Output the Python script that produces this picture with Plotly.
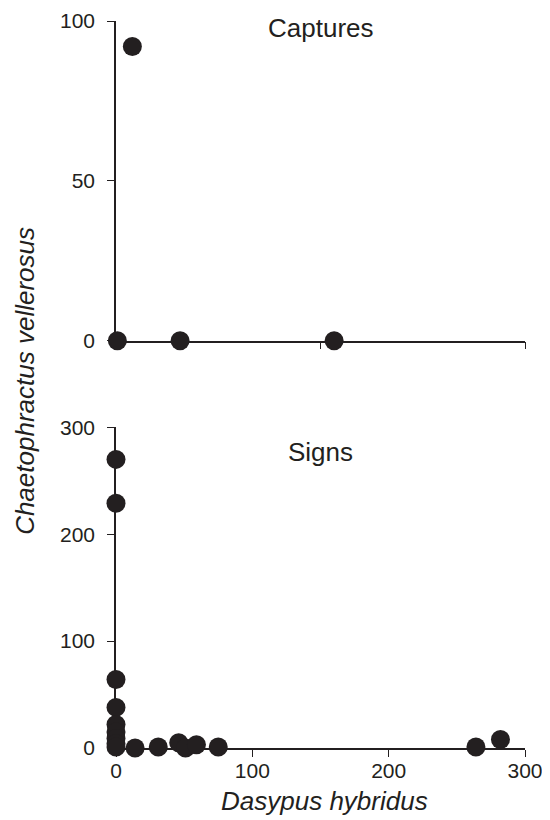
import plotly.graph_objects as go

# Captures panel
cap_x = [1, 12, 47, 160]
cap_y = [0, 92, 0, 0]

# Signs panel
sign_x = [0, 0, 0, 0, 0, 0, 0, 0, 0, 14, 31, 46, 51, 59, 75, 264, 282]
sign_y = [270, 229, 64, 38, 22, 15, 9, 4, 1, 0, 1, 5, 0, 3, 1, 1, 8]

top_yticks = [0, 50, 100]
bot_yticks = [0, 100, 200, 300]
bot_xticks = [0, 100, 200, 300]
top_xticks = [150, 300]

INK = "#231f20"
FONT = "Liberation Sans, Arial, sans-serif"

fig = go.Figure()
marker = dict(size=19, color=INK, line=dict(width=0))
fig.add_trace(go.Scatter(x=cap_x, y=cap_y, mode="markers", marker=marker,
                         xaxis="x", yaxis="y", cliponaxis=False, showlegend=False))
fig.add_trace(go.Scatter(x=sign_x, y=sign_y, mode="markers", marker=marker,
                         xaxis="x2", yaxis="y2", cliponaxis=False, showlegend=False))

ax_common = dict(showline=True, linecolor=INK, linewidth=1.5, showgrid=False,
                 zeroline=False, ticks="outside", ticklen=7, tickwidth=1.2,
                 tickcolor=INK, layer="below traces", automargin=False,
                 ticklabeloverflow="allow",
                 tickfont=dict(family=FONT, size=21, color=INK))

fig.update_layout(
    template="none",
    width=542, height=812,
    margin=dict(l=108, r=25, t=13, b=72, pad=0),
    plot_bgcolor="white", paper_bgcolor="white",
    xaxis=dict(ax_common, domain=[0, 1], range=[0, 300], tickvals=top_xticks,
               showticklabels=False, anchor="y"),
    yaxis=dict(ax_common, domain=[0.5603, 1], range=[0, 100], tickvals=top_yticks,
               anchor="x", ticklabelstandoff=8),
    xaxis2=dict(ax_common, domain=[0, 1], range=[0, 300], tickvals=bot_xticks,
                anchor="y2", ticklabelstandoff=-4),
    yaxis2=dict(ax_common, domain=[0, 0.4411], range=[0, 300], tickvals=bot_yticks,
                anchor="x2", ticklabelstandoff=8),
    annotations=[
        dict(text="Captures", x=150, y=1.0, xref="x", yref="paper", yshift=-7,
             showarrow=False, xanchor="center", yanchor="middle",
             font=dict(family=FONT, size=26, color=INK)),
        dict(text="Signs", x=150, y=0.41, xref="x2", yref="paper", yshift=-2,
             showarrow=False, xanchor="center", yanchor="middle",
             font=dict(family=FONT, size=26, color=INK)),
        dict(text="<i>Chaetophractus vellerosus</i>", x=0, xshift=-91, y=0.505,
             xref="paper", yref="paper", textangle=-90, showarrow=False,
             xanchor="center", yanchor="middle",
             font=dict(family=FONT, size=26, color=INK)),
        dict(text="<i>Dasypus hybridus</i>", x=153, y=-0.075, xref="x2", yref="paper",
             yshift=2, showarrow=False, xanchor="center", yanchor="middle",
             font=dict(family=FONT, size=26, color=INK)),
    ],
)

fig.write_html("out.html")
